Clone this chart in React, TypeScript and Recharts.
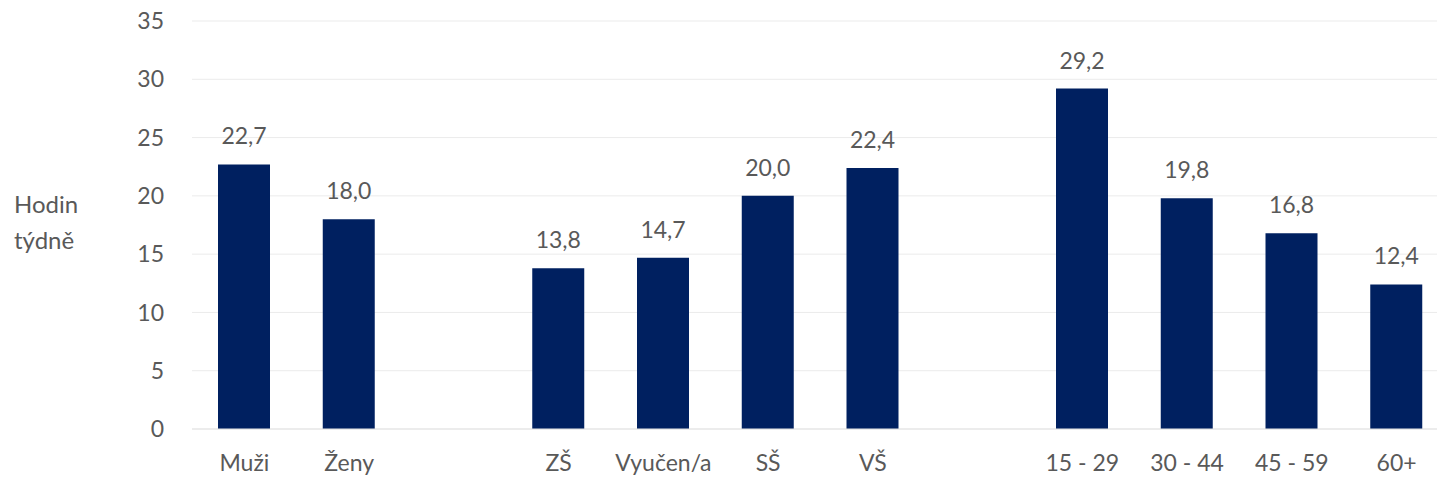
import React from "react";
import { BarChart, Bar, XAxis, YAxis, CartesianGrid, LabelList } from "recharts";

const categories = ["Muži", "Ženy", " ", "ZŠ", "Vyučen/a", "SŠ", "VŠ", "  ", "15 - 29", "30 - 44", "45 - 59", "60+"];
const hours = [22.7, 18.0, null, 13.8, 14.7, 20.0, 22.4, null, 29.2, 19.8, 16.8, 12.4];
const yTicks = [0, 5, 10, 15, 20, 25, 30, 35];

const data = categories.map((name, i) => ({ name, value: hours[i] }));

const FONT = "Lato, 'Open Sans', sans-serif";
const TEXT = "#595959";

const fmt = (v: any) => (v == null ? "" : Number(v).toFixed(1).replace(".", ","));

const YLabel = () => (
  <text x={15} y={205} fill={TEXT} fontSize={24} fontFamily={FONT}>
    <tspan x={14} dy={8}>Hodin</tspan>
    <tspan x={14} dy={36}>týdně</tspan>
  </text>
);

export default function App() {
  return (
    <div style={{ position: "absolute", left: 0, top: 0, width: 1437, height: 482, overflow: "hidden", background: "#fff" }}>
      <BarChart width={1452} height={482} data={data} margin={{ top: 21, right: 3, bottom: 0, left: 0 }}>
        <CartesianGrid vertical={false} stroke="#ebebeb" />
        <XAxis
          dataKey="name"
          height={53}
          axisLine={{ stroke: "#e3e3e3" }}
          tickLine={false}
          tickMargin={20}
          interval={0}
          tick={{ fill: TEXT, fontSize: 23, fontFamily: FONT }}
        />
        <YAxis
          width={192}
          domain={[0, 35]}
          ticks={yTicks}
          axisLine={false}
          tickLine={false}
          tickMargin={22}
          tick={{ fill: TEXT, fontSize: 23, fontFamily: FONT }}
          label={<YLabel />}
        />
        <Bar dataKey="value" fill="#002060" barSize={52} isAnimationActive={false}>
          <LabelList
            dataKey="value"
            position="top"
            offset={20}
            formatter={fmt}
            fill={TEXT}
            fontSize={23}
            fontFamily={FONT}
          />
        </Bar>
      </BarChart>
    </div>
  );
}
